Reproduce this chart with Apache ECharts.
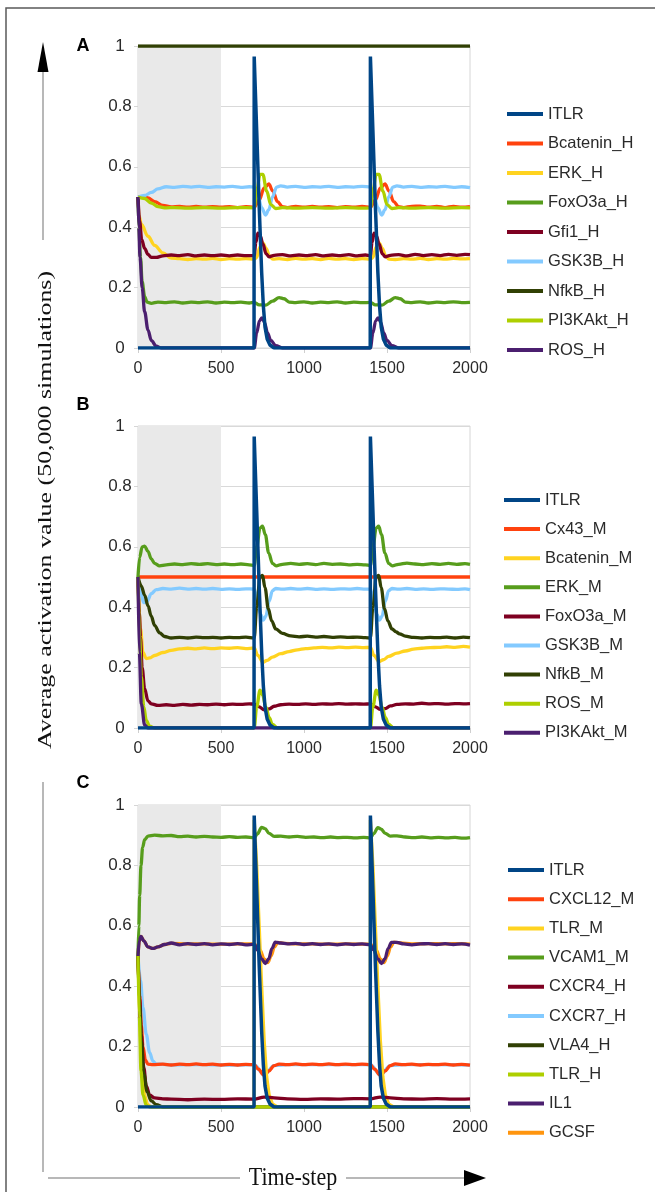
<!DOCTYPE html>
<html><head><meta charset="utf-8">
<script src="https://cdn.jsdelivr.net/npm/echarts@6/dist/echarts.min.js"></script>
<style>html,body{margin:0;padding:0;background:#fff}#c{width:655px;height:1192px}</style>
</head><body><div id="c"></div><script>
// ---------- tick labels / ranges ----------
const xTicks = [0, 500, 1000, 1500, 2000];
const yTicks = [0, 0.2, 0.4, 0.6, 0.8, 1];
const shadeRange = [0, 500];
const panelLetters = ['A', 'B', 'C'];

// ---------- shared input ----------
const ITLR = [[0,0],[699,0],[700,0.965],[715,0.72],[730,0.47],[745,0.25],[755,0.14],[765,0.07],[778,0.03],[795,0.01],[820,0],
  [1399,0],[1400,0.965],[1415,0.72],[1430,0.47],[1445,0.25],[1455,0.14],[1465,0.07],[1478,0.03],[1495,0.01],[1520,0],[2000,0]];

// ---------- panel A ----------
const namesA = ['ITLR','Bcatenin_H','ERK_H','FoxO3a_H','Gfi1_H','GSK3B_H','NfkB_H','PI3KAkt_H','ROS_H'];
const A_Bcatenin = [[0,0.5],[30,0.5],[60,0.497],[100,0.485],[150,0.472],[200,0.467],[250,0.469],[300,0.466],[350,0.469],[400,0.466],[450,0.468],[500,0.466],[550,0.468],[600,0.465],[650,0.468],[700,0.466],
  [730,0.49],[760,0.53],[788,0.543],[812,0.52],[840,0.485],[870,0.468],[900,0.465],[950,0.469],[1000,0.466],[1050,0.469],[1100,0.466],[1150,0.468],[1200,0.465],[1250,0.468],[1300,0.466],[1350,0.469],[1400,0.466],
  [1430,0.49],[1460,0.53],[1488,0.543],[1512,0.52],[1540,0.485],[1570,0.468],[1600,0.465],[1650,0.469],[1700,0.47],[1750,0.466],[1800,0.469],[1850,0.465],[1900,0.469],[1950,0.466],[2000,0.468]];
const A_ERK = [[0,0.5],[5,0.44],[20,0.41],[60,0.37],[100,0.34],[150,0.315],[200,0.298],[250,0.296],[300,0.293],[350,0.296],[400,0.294],[450,0.297],[500,0.293],[550,0.296],[600,0.294],[650,0.296],[700,0.294],
  [715,0.3],[735,0.335],[752,0.348],[772,0.33],[792,0.305],[812,0.294],[850,0.296],[900,0.293],[950,0.297],[1000,0.294],[1050,0.296],[1100,0.293],[1150,0.297],[1200,0.294],[1250,0.296],[1300,0.293],[1350,0.296],[1400,0.294],
  [1415,0.3],[1435,0.335],[1452,0.348],[1472,0.33],[1492,0.305],[1512,0.294],[1550,0.293],[1600,0.296],[1650,0.294],[1700,0.297],[1750,0.293],[1800,0.296],[1850,0.294],[1900,0.297],[1950,0.295],[2000,0.296]];
const A_FoxO3a = [[0,0.5],[5,0.4],[15,0.3],[25,0.22],[40,0.17],[55,0.152],[80,0.148],[120,0.152],[170,0.15],[220,0.153],[270,0.149],[320,0.152],[370,0.15],[420,0.153],[470,0.149],[520,0.152],[570,0.15],[620,0.152],[670,0.149],[700,0.151],
  [730,0.143],[770,0.142],[810,0.155],[850,0.167],[880,0.163],[910,0.152],[950,0.15],[1000,0.153],[1050,0.149],[1100,0.152],[1150,0.15],[1200,0.153],[1250,0.149],[1300,0.152],[1350,0.15],[1400,0.151],
  [1430,0.143],[1470,0.142],[1510,0.155],[1550,0.167],[1580,0.163],[1610,0.152],[1650,0.15],[1700,0.153],[1750,0.149],[1800,0.152],[1850,0.15],[1900,0.153],[1950,0.15],[2000,0.151]];
const A_Gfi1 = [[0,0.5],[10,0.42],[22,0.36],[40,0.33],[60,0.31],[80,0.3],[110,0.3],[150,0.305],[200,0.308],[250,0.306],[300,0.309],[350,0.305],[400,0.308],[450,0.306],[500,0.308],[550,0.305],[600,0.308],[650,0.306],[700,0.306],
  [710,0.35],[722,0.38],[737,0.37],[752,0.345],[772,0.312],[790,0.302],[820,0.307],[870,0.309],[920,0.305],[970,0.308],[1020,0.306],[1070,0.309],[1120,0.305],[1170,0.308],[1220,0.306],[1270,0.309],[1320,0.305],[1370,0.308],[1400,0.306],
  [1410,0.35],[1422,0.38],[1437,0.37],[1452,0.345],[1472,0.312],[1490,0.302],[1520,0.307],[1570,0.309],[1620,0.305],[1670,0.31],[1720,0.306],[1770,0.309],[1820,0.306],[1870,0.31],[1920,0.307],[1970,0.31],[2000,0.309]];
const A_GSK3B = [[0,0.5],[40,0.505],[80,0.515],[120,0.527],[170,0.534],[220,0.532],[270,0.535],[320,0.533],[370,0.535],[420,0.532],[470,0.534],[520,0.533],[570,0.535],[620,0.532],[670,0.534],[700,0.533],
  [720,0.51],[745,0.465],[768,0.44],[788,0.458],[810,0.5],[835,0.533],[860,0.537],[900,0.533],[950,0.535],[1000,0.532],[1050,0.534],[1100,0.533],[1150,0.535],[1200,0.532],[1250,0.534],[1300,0.533],[1350,0.535],[1400,0.533],
  [1420,0.51],[1445,0.465],[1468,0.44],[1488,0.458],[1510,0.5],[1535,0.533],[1560,0.537],[1600,0.533],[1650,0.535],[1700,0.532],[1750,0.534],[1800,0.533],[1850,0.535],[1900,0.532],[1950,0.534],[2000,0.531]];
const A_NfkB = [[0,1],[2000,1]];
const A_PI3KAkt = [[0,0.5],[40,0.495],[80,0.48],[120,0.468],[170,0.464],[220,0.465],[300,0.463],[400,0.465],[500,0.463],[600,0.465],[700,0.464],
  [715,0.52],[735,0.575],[752,0.575],[775,0.52],[800,0.475],[830,0.462],[870,0.465],[950,0.463],[1050,0.465],[1150,0.463],[1250,0.465],[1350,0.463],[1400,0.464],
  [1415,0.52],[1435,0.575],[1452,0.575],[1475,0.52],[1500,0.475],[1530,0.462],[1570,0.465],[1650,0.463],[1750,0.465],[1850,0.463],[1950,0.465],[2000,0.464]];
const A_ROS = [[0,0.5],[5,0.4],[12,0.3],[25,0.2],[40,0.12],[60,0.06],[80,0.025],[110,0.006],[140,0],[700,0],
  [715,0.05],[732,0.09],[747,0.1],[762,0.085],[780,0.05],[800,0.025],[830,0.008],[870,0],[1400,0],
  [1415,0.05],[1432,0.09],[1447,0.1],[1462,0.085],[1480,0.05],[1500,0.025],[1530,0.008],[1570,0],[2000,0]];

// ---------- panel B ----------
const namesB = ['ITLR','Cx43_M','Bcatenin_M','ERK_M','FoxO3a_M','GSK3B_M','NfkB_M','ROS_M','PI3KAkt_M'];
const B_Cx43 = [[0,0.5],[2000,0.5]];
const B_Bcatenin = [[0,0.5],[15,0.33],[30,0.25],[50,0.23],[70,0.232],[100,0.24],[150,0.25],[200,0.257],[250,0.262],[300,0.264],[350,0.262],[400,0.265],[450,0.263],[500,0.265],[550,0.264],[600,0.266],[650,0.263],[700,0.265],
  [722,0.24],[752,0.218],[778,0.224],[810,0.235],[860,0.246],[910,0.253],[960,0.259],[1010,0.263],[1060,0.265],[1110,0.267],[1160,0.265],[1210,0.268],[1260,0.266],[1310,0.268],[1360,0.266],[1400,0.267],
  [1422,0.24],[1452,0.22],[1478,0.226],[1510,0.237],[1560,0.248],[1610,0.255],[1660,0.261],[1710,0.264],[1760,0.266],[1810,0.267],[1860,0.269],[1910,0.267],[1960,0.27],[2000,0.268]];
const B_ERK = [[0,0.5],[10,0.565],[25,0.6],[40,0.602],[60,0.585],[80,0.56],[100,0.545],[130,0.537],[170,0.54],[220,0.543],[270,0.541],[320,0.544],[370,0.542],[420,0.544],[470,0.541],[520,0.543],[570,0.541],[620,0.543],[670,0.54],[700,0.538],
  [715,0.6],[735,0.662],[750,0.668],[767,0.64],[787,0.58],[810,0.545],[832,0.537],[870,0.542],[920,0.545],[970,0.542],[1020,0.544],[1070,0.541],[1120,0.545],[1170,0.542],[1220,0.543],[1270,0.54],[1320,0.542],[1370,0.54],[1400,0.538],
  [1415,0.6],[1435,0.662],[1450,0.668],[1467,0.64],[1487,0.58],[1510,0.545],[1532,0.537],[1570,0.542],[1620,0.546],[1670,0.543],[1720,0.541],[1770,0.544],[1820,0.542],[1870,0.545],[1920,0.542],[1970,0.544],[2000,0.542]];
const B_FoxO3a = [[0,0.5],[8,0.38],[15,0.3],[25,0.2],[40,0.13],[60,0.09],[80,0.08],[120,0.075],[170,0.077],[220,0.075],[270,0.078],[320,0.076],[370,0.078],[420,0.077],[470,0.079],[520,0.077],[570,0.079],[620,0.078],[670,0.08],[700,0.079],
  [730,0.07],[760,0.06],[790,0.063],[820,0.072],[860,0.077],[910,0.079],[960,0.078],[1010,0.08],[1060,0.078],[1110,0.08],[1160,0.079],[1210,0.081],[1260,0.079],[1310,0.08],[1360,0.079],[1400,0.08],
  [1430,0.07],[1460,0.062],[1490,0.064],[1520,0.073],[1560,0.078],[1610,0.08],[1660,0.079],[1710,0.082],[1760,0.08],[1810,0.081],[1860,0.079],[1910,0.081],[1960,0.08],[2000,0.081]];
const B_GSK3B = [[0,0.5],[15,0.45],[35,0.415],[55,0.42],[80,0.445],[110,0.458],[150,0.462],[200,0.46],[250,0.463],[300,0.46],[350,0.462],[400,0.46],[450,0.462],[500,0.459],[550,0.461],[600,0.459],[650,0.461],[700,0.46],
  [720,0.42],[740,0.375],[755,0.357],[770,0.37],[790,0.42],[810,0.455],[830,0.462],[870,0.46],[920,0.462],[970,0.46],[1020,0.462],[1070,0.459],[1120,0.461],[1170,0.459],[1220,0.461],[1270,0.46],[1320,0.462],[1370,0.46],[1400,0.46],
  [1420,0.42],[1440,0.375],[1455,0.357],[1470,0.37],[1490,0.42],[1510,0.455],[1530,0.462],[1570,0.46],[1620,0.462],[1670,0.459],[1720,0.461],[1770,0.459],[1820,0.461],[1870,0.46],[1920,0.459],[1970,0.461],[2000,0.458]];
const B_NfkB = [[0,0.5],[20,0.47],[40,0.44],[60,0.405],[80,0.37],[100,0.34],[130,0.315],[160,0.303],[200,0.298],[250,0.3],[300,0.298],[350,0.301],[400,0.299],[450,0.3],[500,0.298],[550,0.3],[600,0.299],[650,0.301],[700,0.298],
  [715,0.4],[735,0.5],[750,0.505],[765,0.465],[785,0.395],[805,0.355],[830,0.328],[870,0.313],[920,0.305],[970,0.302],[1020,0.304],[1070,0.301],[1120,0.303],[1170,0.3],[1220,0.302],[1270,0.3],[1320,0.301],[1370,0.299],[1400,0.298],
  [1415,0.4],[1435,0.5],[1450,0.505],[1465,0.465],[1485,0.395],[1505,0.355],[1530,0.328],[1555,0.318],[1575,0.312],[1610,0.304],[1660,0.3],[1710,0.298],[1760,0.3],[1810,0.299],[1860,0.301],[1910,0.298],[1960,0.301],[2000,0.299]];
const B_ROS = [[0,0.5],[10,0.3],[20,0.17],[35,0.07],[50,0.025],[70,0.006],[100,0],[700,0],
  [715,0.07],[735,0.125],[750,0.11],[770,0.07],[790,0.035],[810,0.012],[840,0],[1400,0],
  [1415,0.07],[1435,0.125],[1450,0.11],[1470,0.07],[1490,0.035],[1510,0.012],[1540,0],[2000,0]];
const B_PI3KAkt = [[0,0.5],[8,0.25],[20,0.08],[40,0.01],[60,0],[2000,0]];

// ---------- panel C ----------
const namesC = ['ITLR','CXCL12_M','TLR_M','VCAM1_M','CXCR4_H','CXCR7_H','VLA4_H','TLR_H','IL1','GCSF'];
const C_CXCL12 = [[0,0.5],[10,0.37],[20,0.27],[30,0.2],[45,0.155],[60,0.142],[90,0.14],[150,0.142],[200,0.139],[250,0.142],[300,0.14],[350,0.143],[400,0.14],[450,0.142],[500,0.139],[550,0.141],[600,0.139],[650,0.141],[700,0.14],
  [725,0.125],[760,0.105],[790,0.12],[820,0.137],[850,0.142],[900,0.14],[950,0.143],[1000,0.14],[1050,0.142],[1100,0.14],[1150,0.143],[1200,0.14],[1250,0.142],[1300,0.14],[1350,0.142],[1400,0.14],
  [1425,0.125],[1460,0.105],[1490,0.12],[1520,0.137],[1550,0.143],[1600,0.14],[1650,0.142],[1700,0.139],[1750,0.141],[1800,0.14],[1850,0.142],[1900,0.139],[1950,0.141],[2000,0.139]];
const C_TLR_M = [[0,0.5],[10,0.3],[20,0.15],[35,0.05],[55,0.01],[80,0],[699,0],[700,0.95],[715,0.8],[730,0.6],[745,0.4],[760,0.22],[775,0.1],[790,0.04],[810,0.01],[840,0],
  [1399,0],[1400,0.95],[1415,0.8],[1430,0.6],[1445,0.4],[1460,0.22],[1475,0.1],[1490,0.04],[1510,0.01],[1540,0],[2000,0]];
const C_VCAM1 = [[0,0.5],[5,0.6],[10,0.7],[18,0.8],[28,0.86],[40,0.885],[60,0.897],[100,0.9],[150,0.898],[200,0.899],[250,0.895],[300,0.897],[350,0.894],[400,0.896],[450,0.894],[500,0.893],[550,0.895],[600,0.893],[650,0.894],[700,0.891],
  [720,0.905],[745,0.926],[765,0.922],[790,0.906],[820,0.896],[860,0.897],[910,0.894],[960,0.896],[1010,0.893],[1060,0.894],[1110,0.892],[1160,0.894],[1210,0.892],[1260,0.893],[1310,0.891],[1360,0.893],[1400,0.891],
  [1420,0.905],[1445,0.925],[1465,0.92],[1490,0.906],[1520,0.897],[1560,0.898],[1610,0.894],[1660,0.892],[1710,0.894],[1760,0.891],[1810,0.893],[1860,0.891],[1910,0.893],[1960,0.89],[2000,0.892]];
const C_CXCR4 = [[0,0.5],[10,0.36],[20,0.24],[35,0.13],[50,0.07],[70,0.04],[100,0.03],[150,0.027],[200,0.026],[300,0.024],[400,0.026],[500,0.025],[600,0.027],[700,0.026],[760,0.033],[820,0.03],[900,0.027],[1000,0.025],[1100,0.027],[1200,0.026],[1300,0.028],[1400,0.027],[1460,0.033],[1520,0.03],[1600,0.027],[1700,0.026],[1800,0.028],[1900,0.026],[2000,0.027]];
const C_CXCR7 = [[0,0.5],[15,0.42],[30,0.33],[50,0.24],[70,0.18],[90,0.152],[110,0.142],[150,0.141],[200,0.139],[300,0.14],[400,0.14],[500,0.139],[600,0.139],[700,0.14],[760,0.106],[820,0.137],[900,0.14],[1000,0.14],[1200,0.14],[1400,0.14],[1460,0.106],[1520,0.137],[1600,0.14],[1800,0.14],[2000,0.139]];
const C_VLA4 = [[0,0.5],[10,0.34],[20,0.22],[35,0.11],[55,0.05],[80,0.02],[110,0.008],[150,0],[2000,0]];
const C_TLR_H = [[0,0.5],[8,0.3],[18,0.12],[30,0.04],[50,0.005],[70,0],[2000,0]];
const C_IL1 = [[0,0.5],[8,0.55],[18,0.565],[35,0.55],[60,0.53],[90,0.525],[120,0.53],[160,0.538],[200,0.543],[250,0.537],[300,0.541],[350,0.538],[400,0.541],[450,0.537],[500,0.54],[550,0.538],[600,0.541],[650,0.537],[700,0.539],
  [720,0.52],[745,0.49],[767,0.475],[787,0.49],[807,0.525],[827,0.546],[860,0.543],[900,0.54],[950,0.542],[1000,0.538],[1050,0.541],[1100,0.538],[1150,0.54],[1200,0.537],[1250,0.54],[1300,0.538],[1350,0.54],[1400,0.537],
  [1420,0.52],[1445,0.49],[1467,0.475],[1487,0.49],[1507,0.525],[1527,0.545],[1560,0.545],[1600,0.54],[1650,0.537],[1700,0.54],[1750,0.541],[1800,0.538],[1850,0.541],[1900,0.538],[1950,0.54],[2000,0.536]];
const C_GCSF = [[0,0.5],[8,0.55],[18,0.565],[35,0.55],[60,0.53],[90,0.525],[120,0.53],[160,0.538],[200,0.542],[300,0.54],[400,0.54],[500,0.539],[600,0.54],[700,0.54],
  [735,0.52],[760,0.49],[782,0.478],[802,0.5],[822,0.53],[842,0.545],[880,0.542],[950,0.54],[1050,0.54],[1150,0.539],[1250,0.54],[1400,0.539],
  [1435,0.52],[1460,0.49],[1482,0.478],[1502,0.5],[1522,0.53],[1542,0.546],[1580,0.543],[1650,0.54],[1750,0.541],[1850,0.54],[1950,0.541],[2000,0.539]];

const palette = ['#004586','#ff420e','#ffd320','#579d1c','#7e0021','#83caff','#314004','#aecf00','#4b1f6f','#ff950e'];

const panels = [
  {names: namesA, data: [ITLR, A_Bcatenin, A_ERK, A_FoxO3a, A_Gfi1, A_GSK3B, A_NfkB, A_PI3KAkt, A_ROS], top: 46, legTop: 104, legLeft: 507, gap: 9.5, letterY: 46},
  {names: namesB, data: [ITLR, B_Cx43, B_Bcatenin, B_ERK, B_FoxO3a, B_GSK3B, B_NfkB, B_ROS, B_PI3KAkt], top: 426, legTop: 490, legLeft: 504, gap: 9.1, letterY: 405},
  {names: namesC, data: [ITLR, C_CXCL12, C_TLR_M, C_VCAM1, C_CXCR4, C_CXCR7, C_VLA4, C_TLR_H, C_IL1, C_GCSF], top: 805, legTop: 860, legLeft: 508, gap: 9.2, letterY: 783}
];

const tickFont = '"Liberation Sans", Arial, sans-serif';
const grids = [], xAxes = [], yAxes = [], series = [], legends = [];
const zOverride = {ITLR: 4, NfkB_H: 3, CXCR7_H: 1, GCSF: 1};
const noSmooth = {ITLR: true, TLR_M: true, NfkB_H: true, Cx43_M: true};

panels.forEach((p, i) => {
  grids.push({left: 138, width: 332, top: p.top, height: 302, show: true, borderColor: '#d6d6d6', borderWidth: 1, backgroundColor: 'transparent'});
  xAxes.push({type: 'value', gridIndex: i, min: xTicks[0], max: xTicks[xTicks.length-1], interval: xTicks[1]-xTicks[0],
    axisLine: {show: false}, axisTick: {show: true, length: 5, lineStyle: {color: '#cfcfcf'}}, splitLine: {show: false},
    axisLabel: {fontFamily: tickFont, fontSize: 16, color: '#2a2a2a', margin: 13, formatter: v => String(v)}});
  yAxes.push({type: 'value', gridIndex: i, min: yTicks[0], max: yTicks[yTicks.length-1], interval: yTicks[1]-yTicks[0],
    axisLine: {show: false}, axisTick: {show: true, length: 4, lineStyle: {color: '#d6d6d6'}},
    splitLine: {show: true, lineStyle: {color: '#d9d9d9', width: 1}},
    axisLabel: {fontFamily: tickFont, fontSize: 17, color: '#2a2a2a', margin: 18, align: 'center', formatter: v => String(v)}});
  // shaded warm-up region
  series.push({type: 'line', xAxisIndex: i, yAxisIndex: i, data: [], z: 0, silent: true,
    markArea: {silent: true, itemStyle: {color: '#e9e9e9'}, data: [[{xAxis: shadeRange[0]}, {xAxis: shadeRange[1]}]]}});
  p.names.forEach((n, k) => {
    series.push({name: n, type: 'line', xAxisIndex: i, yAxisIndex: i, data: p.data[k], showSymbol: false, symbol: 'none',
      smooth: noSmooth[n] ? false : 0.35, smoothMonotone: 'x',
      z: zOverride[n] !== undefined ? zOverride[n] : 2,
      color: palette[k], lineStyle: {width: n === 'ITLR' ? 3.5 : 3.3, color: palette[k]}});
  });
  legends.push({orient: 'vertical', left: p.legLeft, top: p.legTop, data: p.names, icon: 'rect', itemWidth: 36, itemHeight: 4,
    itemGap: p.gap, selectedMode: false, padding: 0,
    textStyle: {fontFamily: tickFont, fontSize: 16.5, lineHeight: 20, color: '#2a2a2a'}});
});

const graphics = [
  {type: 'rect', shape: {x: 6, y: 8, width: 700, height: 1250}, style: {fill: 'none', stroke: '#5a5a5a', lineWidth: 1.5}, silent: true},
  {type: 'line', shape: {x1: 43, y1: 70, x2: 43, y2: 240}, style: {stroke: '#a0a0a0', lineWidth: 1.5}},
  {type: 'line', shape: {x1: 43, y1: 782, x2: 43, y2: 1172}, style: {stroke: '#a0a0a0', lineWidth: 1.5}},
  {type: 'polygon', shape: {points: [[43, 42], [37.5, 72], [48.5, 72]]}, style: {fill: '#000'}},
  {type: 'line', shape: {x1: 48, y1: 1178, x2: 240, y2: 1178}, style: {stroke: '#a0a0a0', lineWidth: 1.5}},
  {type: 'line', shape: {x1: 346, y1: 1178, x2: 466, y2: 1178}, style: {stroke: '#a0a0a0', lineWidth: 1.5}},
  {type: 'polygon', shape: {points: [[486, 1178], [464, 1170], [464, 1186]]}, style: {fill: '#000'}},
  {type: 'text', x: 46, y: 510, rotation: Math.PI / 2, scaleX: 1.44,
    style: {text: 'Average activation value (50,000 simulations)', font: '18px "Liberation Serif", "DejaVu Serif", serif', fill: '#111', textAlign: 'center', textVerticalAlign: 'middle'}},
  {type: 'text', x: 293, y: 1178, scaleY: 1.15,
    style: {text: 'Time-step', font: '22px "Liberation Serif", "DejaVu Serif", serif', fill: '#111', textAlign: 'center', textVerticalAlign: 'middle'}}
];
panels.forEach((p, i) => {
  graphics.push({type: 'text', x: 83, y: p.letterY, style: {text: panelLetters[i], font: 'bold 18px "Liberation Sans", Arial, sans-serif', fill: '#000', textAlign: 'center', textVerticalAlign: 'middle'}});
});

const chart = echarts.init(document.getElementById('c'), null, {renderer: 'canvas'});
chart.setOption({
  animation: false,
  backgroundColor: '#fff',
  grid: grids, xAxis: xAxes, yAxis: yAxes, series: series, legend: legends, graphic: graphics
});
</script></body></html>
